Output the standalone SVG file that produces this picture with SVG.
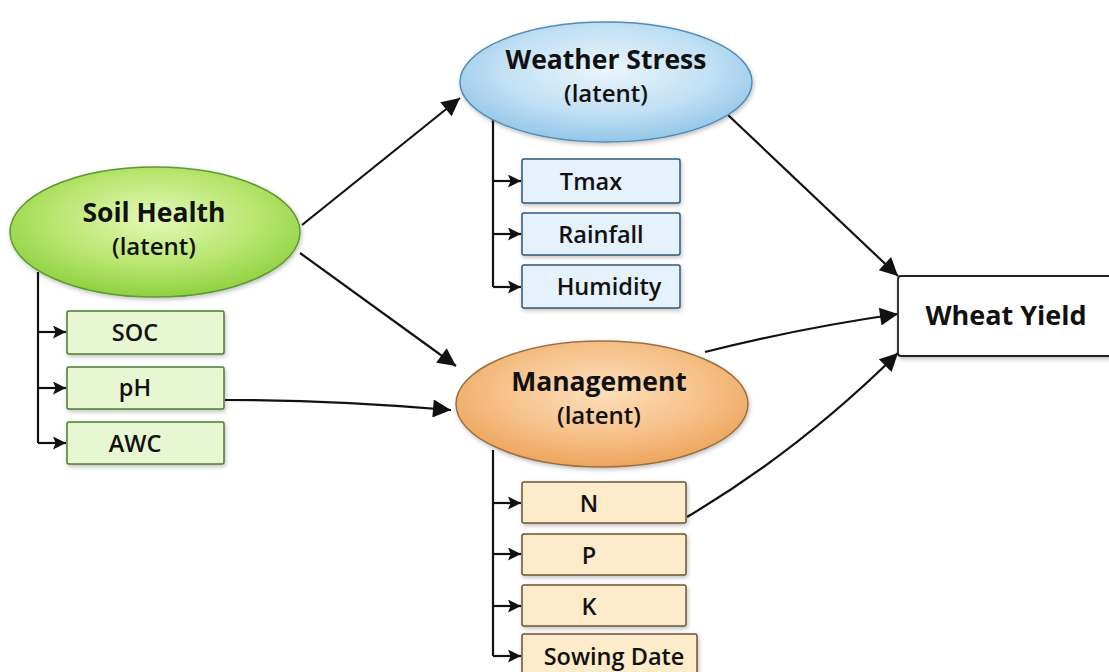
<svg xmlns="http://www.w3.org/2000/svg" width="1109" height="672" viewBox="0 0 1109 672">
<defs>
<radialGradient id="gGreen" cx="0.5" cy="0.4" r="0.6"><stop offset="0" stop-color="#e4f9b8"/><stop offset="0.6" stop-color="#b8e56e"/><stop offset="1" stop-color="#8fd140"/></radialGradient>
<radialGradient id="gBlue" cx="0.5" cy="0.4" r="0.6"><stop offset="0" stop-color="#eaf5fc"/><stop offset="0.6" stop-color="#c2e0f4"/><stop offset="1" stop-color="#94c6e8"/></radialGradient>
<radialGradient id="gOrange" cx="0.5" cy="0.4" r="0.6"><stop offset="0" stop-color="#fde0bc"/><stop offset="0.6" stop-color="#f6c088"/><stop offset="1" stop-color="#eea55c"/></radialGradient>
<filter id="sh" x="-10%" y="-10%" width="130%" height="140%"><feDropShadow dx="1" dy="2" stdDeviation="2" flood-color="#000" flood-opacity="0.25"/></filter>
<marker id="ahL" viewBox="0 0 10 10" refX="10" refY="5" markerWidth="22" markerHeight="18" markerUnits="userSpaceOnUse" orient="auto"><path d="M0,0 L10,5 L0,10 Z" fill="#111"/></marker>
<marker id="ahS" viewBox="0 0 10 10" refX="10" refY="5" markerWidth="17" markerHeight="13" markerUnits="userSpaceOnUse" orient="auto"><path d="M0,0 L10,5 L0,10 L2,5 Z" fill="#111"/></marker>
</defs>
<style>
text{font-family:"Open Sans","Lato","Liberation Sans",sans-serif;font-weight:bold;fill:#111;text-anchor:middle}
.big{font-size:26.5px}
.lat{font-size:24px;font-weight:600}
.box{font-size:23.5px;font-weight:600}
.wy{font-size:27px}
.gb{fill:#e7f7d2;stroke:#4e7a30;stroke-width:1.5}
.bb{fill:#e6f2fb;stroke:#2e5878;stroke-width:1.5}
.ob{fill:#fdebc9;stroke:#6a5535;stroke-width:1.5}
.conn{fill:none;stroke:#111;stroke-width:2.2}
.br{fill:none;stroke:#111;stroke-width:2.2}
</style>
<g id="connectors">
<path class="conn" d="M302,225 L460,98" marker-end="url(#ahL)"/>
<path class="conn" d="M300,253 L456,366" marker-end="url(#ahL)"/>
<path class="conn" d="M225,400 Q330,400 451,410" marker-end="url(#ahL)"/>
<path class="conn" d="M728,115 L898,276" marker-end="url(#ahL)"/>
<path class="conn" d="M705,352 Q800,328 898,314" marker-end="url(#ahL)"/>
<path class="conn" d="M687,517 Q800,450 898,353" marker-end="url(#ahL)"/>
<path class="br" d="M38,272 L38,443"/>
<path class="br" d="M38,332 L66,332" marker-end="url(#ahS)"/>
<path class="br" d="M38,388 L66,388" marker-end="url(#ahS)"/>
<path class="br" d="M38,443 L66,443" marker-end="url(#ahS)"/>
<path class="br" d="M493,118 L493,287"/>
<path class="br" d="M493,181 L521,181" marker-end="url(#ahS)"/>
<path class="br" d="M493,234 L521,234" marker-end="url(#ahS)"/>
<path class="br" d="M493,287 L521,287" marker-end="url(#ahS)"/>
<path class="br" d="M493,450 L493,656"/>
<path class="br" d="M493,503 L521,503" marker-end="url(#ahS)"/>
<path class="br" d="M493,554 L521,554" marker-end="url(#ahS)"/>
<path class="br" d="M493,606 L521,606" marker-end="url(#ahS)"/>
<path class="br" d="M493,656 L521,656" marker-end="url(#ahS)"/>
</g>
<g id="soil-health">
<ellipse cx="155" cy="232" rx="145" ry="65" fill="url(#gGreen)" stroke="#5c9a30" stroke-width="1.5" filter="url(#sh)"/>
<text class="big" x="154" y="222">Soil Health</text>
<text class="lat" x="154" y="255">(latent)</text>
</g>
<g id="soc"><rect class="gb" x="67" y="311" width="157" height="43" rx="2" filter="url(#sh)"/><text class="box" x="135" y="341">SOC</text></g>
<g id="ph"><rect class="gb" x="67" y="367" width="157" height="42" rx="2" filter="url(#sh)"/><text class="box" x="135" y="396">pH</text></g>
<g id="awc"><rect class="gb" x="67" y="422" width="157" height="42" rx="2" filter="url(#sh)"/><text class="box" x="135" y="452">AWC</text></g>
<g id="weather-stress">
<ellipse cx="606" cy="82" rx="146" ry="60" fill="url(#gBlue)" stroke="#4f8cb8" stroke-width="1.5" filter="url(#sh)"/>
<text class="big" x="606" y="69">Weather Stress</text>
<text class="lat" x="606" y="102">(latent)</text>
</g>
<g id="tmax"><rect class="bb" x="522" y="159" width="158" height="44" rx="2" filter="url(#sh)"/><text class="box" x="591" y="190">Tmax</text></g>
<g id="rainfall"><rect class="bb" x="522" y="213" width="158" height="42" rx="2" filter="url(#sh)"/><text class="box" x="601" y="243">Rainfall</text></g>
<g id="humidity"><rect class="bb" x="522" y="265" width="158" height="43" rx="2" filter="url(#sh)"/><text class="box" x="609" y="295">Humidity</text></g>
<g id="management">
<ellipse cx="602" cy="404" rx="146" ry="63" fill="url(#gOrange)" stroke="#9a7040" stroke-width="1.5" filter="url(#sh)"/>
<text class="big" x="599" y="391">Management</text>
<text class="lat" x="599" y="424">(latent)</text>
</g>
<g id="n"><rect class="ob" x="522" y="482" width="164" height="41" rx="2" filter="url(#sh)"/><text class="box" x="589" y="512">N</text></g>
<g id="p"><rect class="ob" x="522" y="534" width="164" height="41" rx="2" filter="url(#sh)"/><text class="box" x="589" y="564">P</text></g>
<g id="k"><rect class="ob" x="522" y="585" width="164" height="41" rx="2" filter="url(#sh)"/><text class="box" x="589" y="615">K</text></g>
<g id="sowing-date"><rect class="ob" x="522" y="634" width="175" height="50" rx="2" filter="url(#sh)"/><text class="box" x="614" y="665">Sowing Date</text></g>
<g id="wheat-yield"><rect x="898" y="276" width="220" height="80" rx="3" fill="#fff" stroke="#222" stroke-width="1.8" filter="url(#sh)"/><text class="wy" x="1006" y="325">Wheat Yield</text></g>
</svg>
